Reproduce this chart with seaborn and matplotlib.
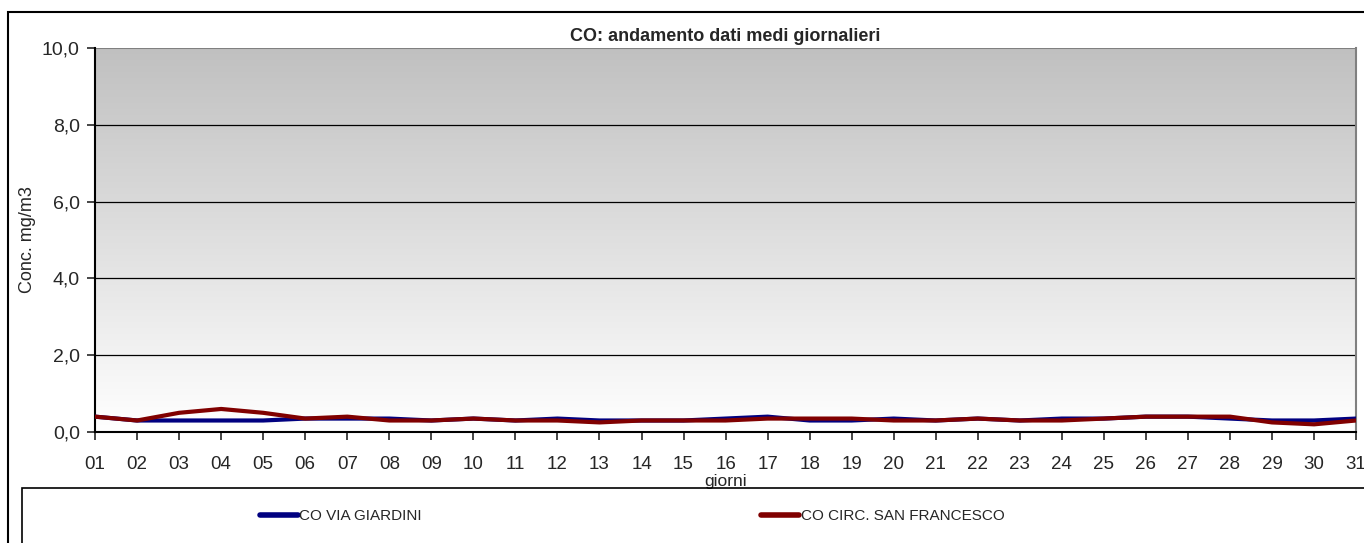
import numpy as np
import pandas as pd
import matplotlib
matplotlib.use('Agg')
import matplotlib.pyplot as plt
import seaborn as sns
from matplotlib.patches import Rectangle
from matplotlib.lines import Line2D
from matplotlib.ticker import FuncFormatter

sns.set_style('white')
plt.rcParams['font.family'] = ['Liberation Sans', 'DejaVu Sans']

# dati
giorni = ['%02d' % d for d in range(1, 32)]
co_via_giardini = [0.4, 0.3, 0.3, 0.3, 0.3, 0.35, 0.35, 0.35, 0.3, 0.35,
                   0.3, 0.35, 0.3, 0.3, 0.3, 0.35, 0.4, 0.3, 0.3, 0.35,
                   0.3, 0.35, 0.3, 0.35, 0.35, 0.4, 0.4, 0.35, 0.3, 0.3, 0.35]
co_san_francesco = [0.4, 0.3, 0.5, 0.6, 0.5, 0.35, 0.4, 0.3, 0.3, 0.35,
                    0.3, 0.3, 0.25, 0.3, 0.3, 0.3, 0.35, 0.35, 0.35, 0.3,
                    0.3, 0.35, 0.3, 0.3, 0.35, 0.4, 0.4, 0.4, 0.25, 0.2, 0.3]
serie = ['CO VIA GIARDINI', 'CO CIRC. SAN FRANCESCO']
colori = ['#000080', '#800000']

df = pd.DataFrame({
    'giorno': list(range(len(giorni))) * 2,
    'valore': co_via_giardini + co_san_francesco,
    'serie': [serie[0]] * len(giorni) + [serie[1]] * len(giorni),
})

fig = plt.figure(figsize=(13.64, 5.43), dpi=100)
ax = fig.add_axes([0.0697, 0.2044, 0.9245, 0.7072])

# sfondo sfumato grigio -> bianco
grad = np.linspace(0, 1, 256).reshape(-1, 1)
cmap = matplotlib.colors.LinearSegmentedColormap.from_list('g', ['#ffffff', '#c0c0c0'])
ax.imshow(grad, aspect='auto', cmap=cmap, origin='lower',
          extent=[0, len(giorni) - 1, 0, 10], zorder=0)

for y in [2, 4, 6, 8]:
    ax.axhline(y, color='black', lw=0.9, zorder=1)
ax.axhline(10, color='#808080', lw=1.5, zorder=1)

sns.lineplot(data=df, x='giorno', y='valore', hue='serie', palette=colori,
             linewidth=3, ax=ax, legend=False, zorder=3)

ax.set_xlim(0, len(giorni) - 1)
ax.set_ylim(0, 10)
ax.set_xticks(range(len(giorni)))
ax.set_xticklabels(giorni, fontsize=13.5)
ax.set_yticks([0, 2, 4, 6, 8, 10])
ax.yaxis.set_major_formatter(FuncFormatter(lambda v, p: ('%.1f' % v).replace('.', ',')))
ax.tick_params(axis='y', labelsize=14, direction='out', length=6, width=1.2, left=True, pad=5)
ax.tick_params(axis='x', direction='out', length=6, width=1.2, bottom=True, pad=11)
ax.set_xlabel('giorni', fontsize=12.5, labelpad=1)
ax.set_ylabel('Conc. mg/m3', fontsize=13, labelpad=4)
ax.set_title('CO: andamento dati medi giornalieri', fontsize=13, fontweight='bold', pad=5)

for s in ['left', 'bottom']:
    ax.spines[s].set_color('black')
    ax.spines[s].set_linewidth(1.5)
ax.spines['top'].set_visible(False)
ax.spines['right'].set_color('#808080')
ax.spines['right'].set_linewidth(1.5)

# cornice esterna
fig.patches.append(Rectangle((8 / 1364, -0.01), 1.0, 1 - 12 / 543 + 0.01,
                             transform=fig.transFigure, fill=False,
                             edgecolor='black', lw=1.5))
# riquadro legenda
fig.patches.append(Rectangle((22 / 1364, -0.01), 1.0, 1 - 488 / 543 + 0.01,
                             transform=fig.transFigure, fill=False,
                             edgecolor='black', lw=1.2))

handles = [Line2D([], [], color=c, lw=4) for c in colori]
fig.legend(handles, serie, loc='center left', bbox_to_anchor=(246 / 1364, 0.05),
           ncol=2, frameon=False, fontsize=11, handlelength=2.5,
           handletextpad=0.1, columnspacing=22.2)

fig.savefig('out.png', dpi=100)
